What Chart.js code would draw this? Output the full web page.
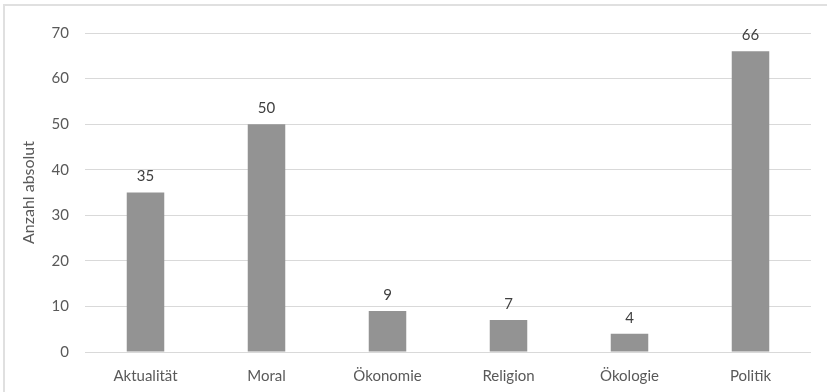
<!DOCTYPE html>
<html>
<head>
<meta charset="utf-8">
<script src="https://cdn.jsdelivr.net/npm/chart.js@4.4.0/dist/chart.umd.min.js"></script>
<style>
    body { margin: 0; background: #fff; }
    #wrap { position: relative; width: 827px; height: 392px; }
    #frame {
        position: absolute; left: 3px; top: 4px; width: 830px; height: 400px;
        border-left: 2px solid #e0e0e0; border-top: 2px solid #e0e0e0;
        pointer-events: none;
    }
</style>
</head>
<body>
<div id="wrap">
    <canvas id="chart" width="827" height="392"></canvas>
    <div id="frame"></div>
</div>
<script>
// Data
const categories = ['Aktualität', 'Moral', 'Ökonomie', 'Religion', 'Ökologie', 'Politik'];
const counts = [35, 50, 9, 7, 4, 66];
const yTicks = [0, 10, 20, 30, 40, 50, 60, 70];

// Draw value labels above each bar
const valueLabels = {
    id: 'valueLabels',
    afterDatasetsDraw(chart) {
        const ctx = chart.ctx;
        ctx.save();
        ctx.font = '15px Lato';
        ctx.fillStyle = '#404040';
        ctx.textAlign = 'center';
        ctx.textBaseline = 'middle';
        chart.getDatasetMeta(0).data.forEach((bar, i) => {
            ctx.fillText(counts[i], bar.x, bar.y - 16);
        });
        ctx.restore();
    }
};

document.addEventListener('DOMContentLoaded', function () {
    const ctx = document.getElementById('chart').getContext('2d');

    new Chart(ctx, {
        type: 'bar',
        data: {
            labels: categories,
            datasets: [{
                data: counts,
                backgroundColor: '#939393',
                barPercentage: 0.62,
                categoryPercentage: 0.5
            }]
        },
        options: {
            responsive: false,
            animation: false,
            layout: { padding: { left: 13, right: 16, top: 33, bottom: 0 } },
            plugins: {
                legend: { display: false },
                tooltip: { enabled: false }
            },
            scales: {
                x: {
                    grid: { display: false },
                    border: { display: false },
                    ticks: { color: '#595959', font: { family: 'Lato', size: 15 }, padding: 7 },
                    afterFit: function (scale) { scale.height = 40; }
                },
                y: {
                    min: 0,
                    max: 70,
                    afterBuildTicks: function (scale) {
                        scale.ticks = yTicks.map(v => ({ value: v }));
                    },
                    grid: { color: '#d9d9d9', drawTicks: false },
                    border: { display: false },
                    ticks: { color: '#595959', font: { family: 'Lato', size: 15 }, padding: 16 },
                    title: {
                        display: true,
                        text: 'Anzahl absolut',
                        color: '#595959',
                        font: { family: 'Lato', size: 16 },
                        padding: { top: 6, bottom: 0 }
                    },
                    afterFit: function (scale) { scale.width = 72; }
                }
            }
        },
        plugins: [valueLabels]
    });
});
</script>
</body>
</html>
